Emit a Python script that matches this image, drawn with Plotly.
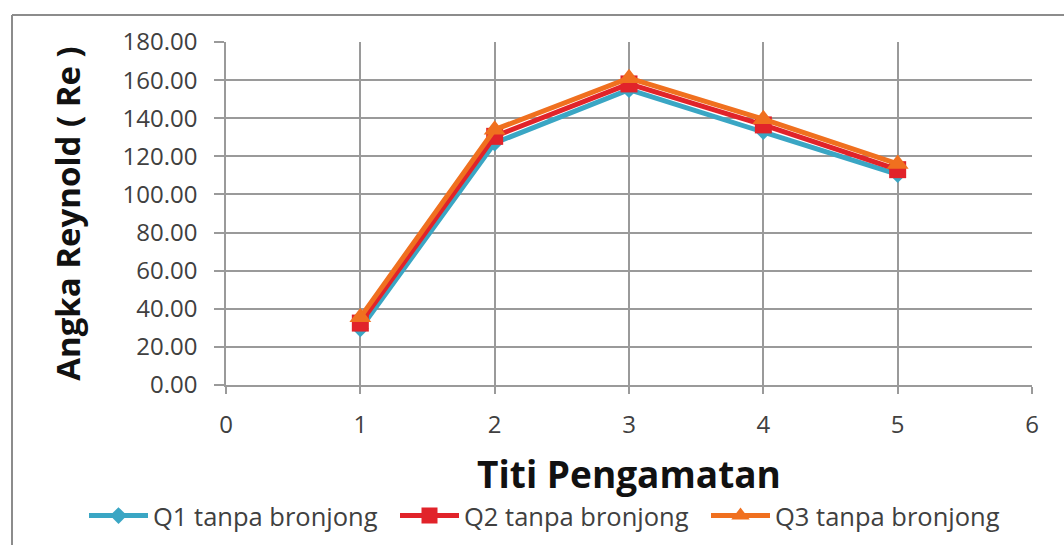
import plotly.graph_objects as go

# Observation points and Reynolds numbers for each discharge (no gabion)
titik = [1, 2, 3, 4, 5]
q1_re = [29.5, 127.0, 155.0, 133.0, 110.5]
q2_re = [32.5, 130.5, 158.0, 136.5, 113.0]
q3_re = [35.5, 134.0, 161.0, 139.5, 116.0]

series_names = ["Q1 tanpa bronjong", "Q2 tanpa bronjong", "Q3 tanpa bronjong"]
y_ticks = [0, 20, 40, 60, 80, 100, 120, 140, 160, 180]
x_ticks = [0, 1, 2, 3, 4, 5, 6]

FONT = "Open Sans"
GRID = "#9a9a9a"

fig = go.Figure()

styles = [
    (q1_re, "#3aa6c4", "diamond", 13),
    (q2_re, "#e1232a", "square", 17),
    (q3_re, "#f0701f", "triangle-up", 19),
]
for name, (vals, color, symbol, size) in zip(series_names, styles):
    fig.add_trace(go.Scatter(
        x=titik, y=vals, name=name, mode="lines+markers",
        line=dict(color=color, width=5),
        marker=dict(symbol=symbol, size=size, color=color, line=dict(width=0)),
    ))

W, H = 1064, 545
L, R, T, B = 226, 32, 42, 160
pw, ph = W - L - R, H - T - B

def px_x(p):
    return (p - L) / pw

def px_y(p):
    return (H - B - p) / ph

# Light frame around the chart area (left and top edges)
frame = dict(type="line", xref="paper", yref="paper",
             line=dict(color="#8c8c8c", width=2))
fig.add_shape(**frame, x0=px_x(12), x1=px_x(12), y0=px_y(15), y1=px_y(H + 5))
fig.add_shape(**frame, x0=px_x(12), x1=px_x(W + 5), y0=px_y(15), y1=px_y(15))

fig.update_layout(
    width=W, height=H,
    margin=dict(l=L, r=R, t=T, b=B, autoexpand=False),
    paper_bgcolor="white", plot_bgcolor="white",
    font=dict(family=FONT, color="#404040"),
    showlegend=True,
    legend=dict(
        orientation="h", x=px_x(84), xanchor="left",
        y=px_y(516), yanchor="middle",
        font=dict(family=FONT, size=25.5, color="#404040"),
        itemwidth=59, entrywidth=237, entrywidthmode="pixels",
        tracegroupgap=0,
    ),
)

fig.update_xaxes(
    range=[0, 6], tickvals=x_ticks, ticktext=[str(v) for v in x_ticks],
    showgrid=True, gridcolor=GRID, gridwidth=1.5,
    showline=True, linecolor=GRID, linewidth=1.5,
    ticks="outside", ticklen=7, tickcolor=GRID, tickwidth=1.5,
    tickfont=dict(family=FONT, size=24, color="#404040"),
    ticklabelstandoff=10,
    zeroline=False,
    title=dict(text="<b>Titi Pengamatan</b>",
               font=dict(family=FONT, size=37, color="#111111"), standoff=24),
)
fig.update_yaxes(
    range=[0, 180], tickvals=y_ticks, ticktext=[f"{v:.2f}" for v in y_ticks],
    showgrid=True, gridcolor=GRID, gridwidth=1.5,
    showline=True, linecolor=GRID, linewidth=1.5,
    ticks="outside", ticklen=10, tickcolor=GRID, tickwidth=1.5,
    tickfont=dict(family=FONT, size=24, color="#404040"),
    ticklabelstandoff=12,
    zeroline=False,
    title=dict(text="<b>Angka Reynold ( Re )</b>",
               font=dict(family=FONT, size=33, color="#111111"), standoff=32),
)

fig.write_html("out.html")
